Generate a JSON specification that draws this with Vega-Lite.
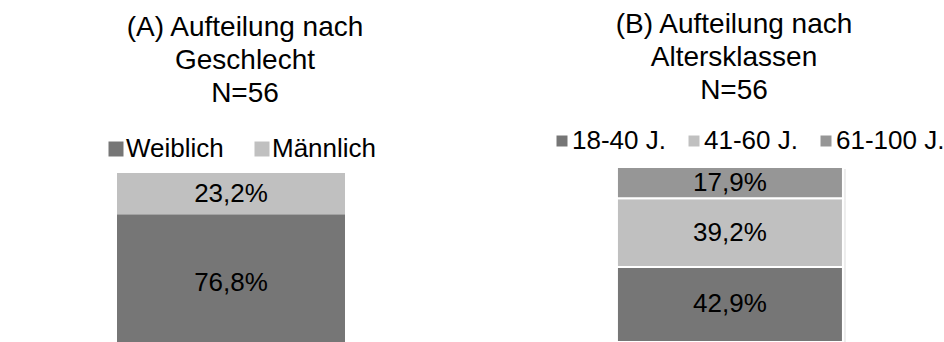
{
  "$schema": "https://vega.github.io/schema/vega-lite/v6.json",
  "background": "white",
  "padding": {"top": 11, "left": 0, "right": 0, "bottom": 0},
  "spacing": 10,
  "config": {
    "view": {"stroke": null},
    "font": "Liberation Sans",
    "locale": {
      "number": {"decimal": ",", "thousands": ".", "grouping": [3], "currency": ["", " €"]}
    },
    "title": {"font": "Liberation Sans", "fontSize": 28, "fontWeight": "normal", "lineHeight": 33, "color": "#000000", "anchor": "middle", "frame": "group"},
    "legend": {
      "orient": "none", "direction": "horizontal", "title": null, "padding": 0,
      "symbolType": "square", "symbolStrokeWidth": 0, "symbolOpacity": 1,
      "labelFont": "Liberation Sans", "labelFontSize": 26, "labelColor": "#000000", "labelLimit": 0
    }
  },
  "resolve": {
    "scale": {"color": "independent", "x": "independent", "y": "independent"},
    "legend": {"color": "independent"}
  },
  "hconcat": [
    {
      "width": 462,
      "height": 184,
      "title": {"text": ["(A) Aufteilung nach", "Geschlecht", "N=56"], "dx": 14, "offset": 28},
      "data": {
        "values": [
          {"geschlecht": "Weiblich", "anteil": 0.768},
          {"geschlecht": "Männlich", "anteil": 0.232}
        ]
      },
      "encoding": {
        "x": {"datum": "Geschlecht", "type": "nominal", "axis": null, "scale": {"paddingInner": 0, "paddingOuter": 0}},
        "y": {"field": "anteil", "type": "quantitative", "stack": "zero", "axis": null, "scale": {"domain": [0, 1.034], "nice": false, "zero": true}},
        "order": {"field": "anteil", "sort": "descending"}
      },
      "layer": [
        {
          "mark": {"type": "bar", "width": 228},
          "encoding": {
            "color": {
              "field": "geschlecht", "type": "nominal",
              "scale": {"domain": ["Weiblich", "Männlich"], "range": ["#767676", "#c0c0c0"]},
              "legend": {"legendX": 103, "legendY": -31, "symbolSize": 225, "labelOffset": -3, "columnPadding": 25}
            }
          }
        },
        {
          "mark": {"type": "text", "fontSize": 26, "font": "Liberation Sans", "color": "#000000"},
          "encoding": {
            "y": {"field": "anteil", "type": "quantitative", "stack": "zero", "bandPosition": 0.5},
            "detail": {"field": "geschlecht"},
            "text": {"field": "anteil", "type": "quantitative", "format": ".1%"}
          }
        }
      ]
    },
    {
      "width": 472,
      "height": 175,
      "title": {"text": ["(B) Aufteilung nach", "Altersklassen", "N=56"], "dx": 26, "offset": 23},
      "data": {
        "values": [
          {"altersklasse": "18-40 J.", "anteil": 0.429},
          {"altersklasse": "41-60 J.", "anteil": 0.392},
          {"altersklasse": "61-100 J.", "anteil": 0.179}
        ]
      },
      "encoding": {
        "x": {"datum": "Altersklassen", "type": "nominal", "axis": null, "scale": {"paddingInner": 0, "paddingOuter": 0.5, "align": 0.593}},
        "y": {"field": "anteil", "type": "quantitative", "stack": "zero", "axis": null, "scale": {"domain": [0, 1], "nice": false, "zero": true}},
        "order": {"field": "anteil", "sort": "descending"}
      },
      "layer": [
        {
          "mark": {"type": "bar", "width": 226, "fill": "#000000", "opacity": 0.07, "xOffset": 3, "yOffset": 2},
          "encoding": {"detail": {"field": "altersklasse"}}
        },
        {
          "mark": {"type": "bar", "width": 226, "stroke": "#ffffff", "strokeWidth": 2},
          "encoding": {
            "color": {
              "field": "altersklasse", "type": "nominal",
              "scale": {"domain": ["18-40 J.", "41-60 J.", "61-100 J."], "range": ["#767676", "#c0c0c0", "#969696"]},
              "legend": {"legendX": 77, "legendY": -39, "symbolSize": 121, "labelOffset": -3, "columnPadding": 15}
            }
          }
        },
        {
          "mark": {"type": "text", "fontSize": 26, "font": "Liberation Sans", "color": "#000000"},
          "encoding": {
            "y": {"field": "anteil", "type": "quantitative", "stack": "zero", "bandPosition": 0.5},
            "detail": {"field": "altersklasse"},
            "text": {"field": "anteil", "type": "quantitative", "format": ".1%"}
          }
        }
      ]
    }
  ]
}
